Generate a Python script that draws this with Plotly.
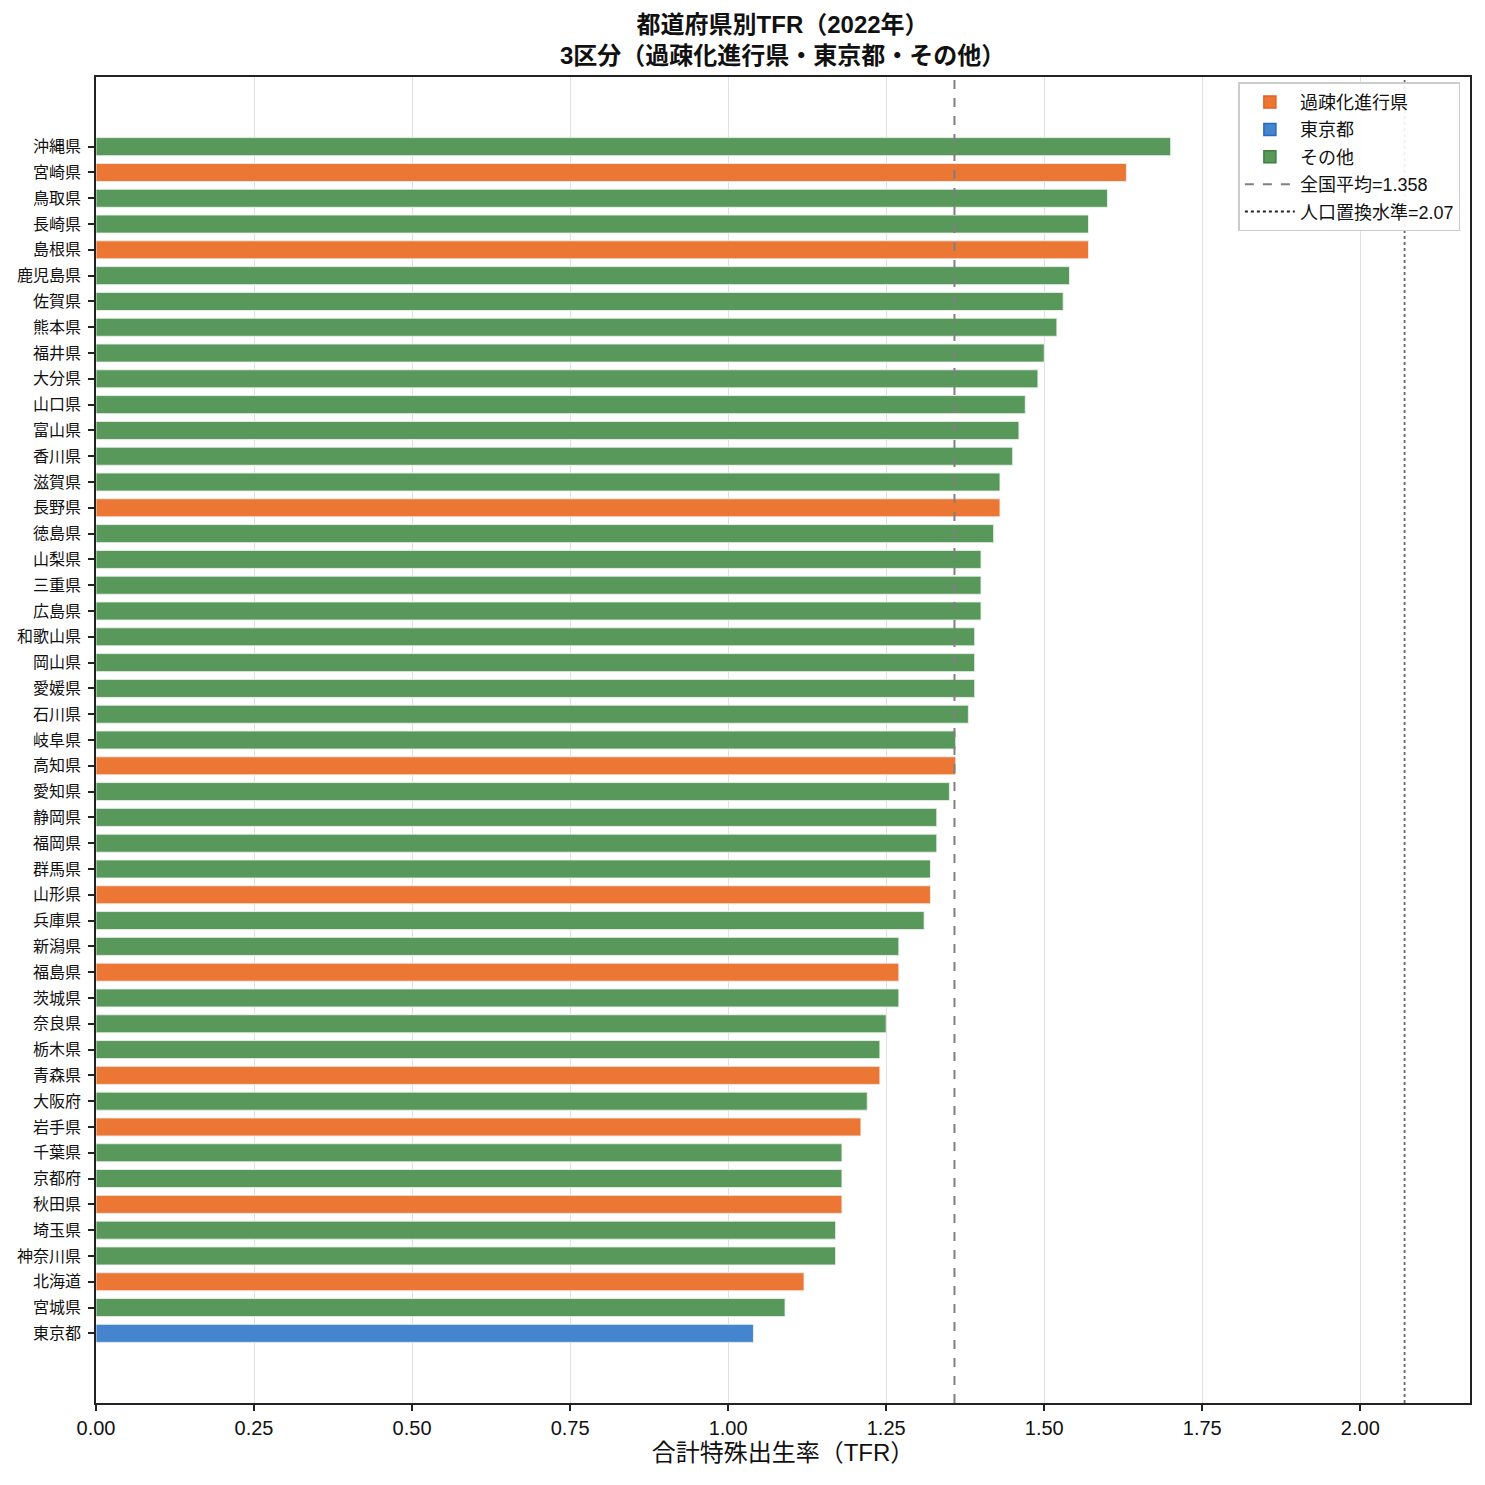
import plotly.graph_objects as go

prefectures = ["沖縄県","宮崎県","鳥取県","長崎県","島根県","鹿児島県","佐賀県","熊本県","福井県","大分県",
               "山口県","富山県","香川県","滋賀県","長野県","徳島県","山梨県","三重県","広島県","和歌山県",
               "岡山県","愛媛県","石川県","岐阜県","高知県","愛知県","静岡県","福岡県","群馬県","山形県",
               "兵庫県","新潟県","福島県","茨城県","奈良県","栃木県","青森県","大阪府","岩手県","千葉県",
               "京都府","秋田県","埼玉県","神奈川県","北海道","宮城県","東京都"]
tfr = [1.70,1.63,1.60,1.57,1.57,1.54,1.53,1.52,1.50,1.49,
       1.47,1.46,1.45,1.43,1.43,1.42,1.40,1.40,1.40,1.39,
       1.39,1.39,1.38,1.36,1.36,1.35,1.33,1.33,1.32,1.32,
       1.31,1.27,1.27,1.27,1.25,1.24,1.24,1.22,1.21,1.18,
       1.18,1.18,1.17,1.17,1.12,1.09,1.04]
depopulating = ["宮崎県","島根県","長野県","高知県","山形県","福島県","青森県","岩手県","秋田県","北海道"]
tokyo = ["東京都"]
groups = ["過疎化進行県", "東京都", "その他"]
national_avg = 1.358
replacement = 2.07

colors = {"過疎化進行県": "#EC7634", "東京都": "#4485CE", "その他": "#58985B"}
edge_colors = {"過疎化進行県": "#E4611E", "東京都": "#2469C4", "その他": "#3C7F40"}

def group_of(p):
    if p in tokyo:
        return "東京都"
    if p in depopulating:
        return "過疎化進行県"
    return "その他"

FONT = "Liberation Sans, Noto Sans CJK JP"
fig = go.Figure()

for g in groups:
    ys = [p for p in prefectures if group_of(p) == g]
    xs = [v for p, v in zip(prefectures, tfr) if group_of(p) == g]
    fig.add_trace(go.Bar(x=xs, y=ys, orientation="h", width=0.7,
                         marker=dict(color=colors[g], line=dict(color="rgba(235,240,235,0.9)", width=1)),
                         showlegend=False, hoverinfo="x+y"))

# legend entries
for g in groups:
    fig.add_trace(go.Bar(x=[None], y=[None], orientation="h", name=g, legendgroup=g,
                         marker=dict(color=colors[g], line=dict(color=edge_colors[g], width=1.5))))
fig.add_trace(go.Scatter(x=[None], y=[None], mode="lines", name=f"全国平均={national_avg}", legendgroup="avg",
                         line=dict(color="#808080", width=2, dash="dash")))
fig.add_trace(go.Scatter(x=[None], y=[None], mode="lines", name=f"人口置換水準={replacement}", legendgroup="rep",
                         line=dict(color="#222222", width=2, dash="dot")))

fig.add_shape(type="line", xref="x", yref="paper", x0=national_avg, x1=national_avg, y0=0, y1=1,
              line=dict(color="#808080", width=2, dash="dash"), layer="above")
fig.add_shape(type="line", xref="x", yref="paper", x0=replacement, x1=replacement, y0=0, y1=1,
              line=dict(color="#666666", width=1.8, dash="dot"), layer="above")

n = len(prefectures)
fig.update_layout(
    width=1485, height=1485,
    margin=dict(l=96, r=15, t=77, b=82),
    paper_bgcolor="white", plot_bgcolor="white",
    font=dict(family=FONT, color="#111111"),
    title=dict(text="<b>都道府県別TFR（2022年）<br>3区分（過疎化進行県・東京都・その他）</b>",
               x=0.527, xanchor="center", yref="container", y=1 - 33 / 1485, yanchor="middle",
               font=dict(size=24, family=FONT, color="#111111")),
    barmode="overlay",
    legend=dict(x=0.993, y=0.996, xanchor="right", yanchor="top",
                bgcolor="rgba(255,255,255,0.9)", bordercolor="#cccccc", borderwidth=1.5,
                font=dict(size=18, family=FONT), tracegroupgap=1, itemwidth=50),
    xaxis=dict(range=[0, 2.1735], tickvals=[0, 0.25, 0.5, 0.75, 1.0, 1.25, 1.5, 1.75, 2.0],
               tickformat=".2f", showgrid=True, gridcolor="#e0e0e0", gridwidth=1,
               showline=True, linecolor="#222222", linewidth=1.5, mirror=True,
               ticks="outside", ticklen=6, tickwidth=1.5, tickcolor="#222222",
               tickfont=dict(size=20, family=FONT), zeroline=False,
               title=dict(text="合計特殊出生率（TFR）", font=dict(size=24, family=FONT), standoff=6)),
    yaxis=dict(type="category", categoryorder="array", categoryarray=prefectures,
               range=[n - 1 + 2.7, -2.7], showgrid=False,
               showline=True, linecolor="#222222", linewidth=1.5, mirror=True,
               ticks="outside", ticklen=6, tickwidth=1.5, tickcolor="#222222",
               ticklabelstandoff=4,
               tickfont=dict(size=16, family=FONT)),
)

fig.write_html("out.html", config={"displayModeBar": False},
               post_script="document.body.style.margin='0';")
